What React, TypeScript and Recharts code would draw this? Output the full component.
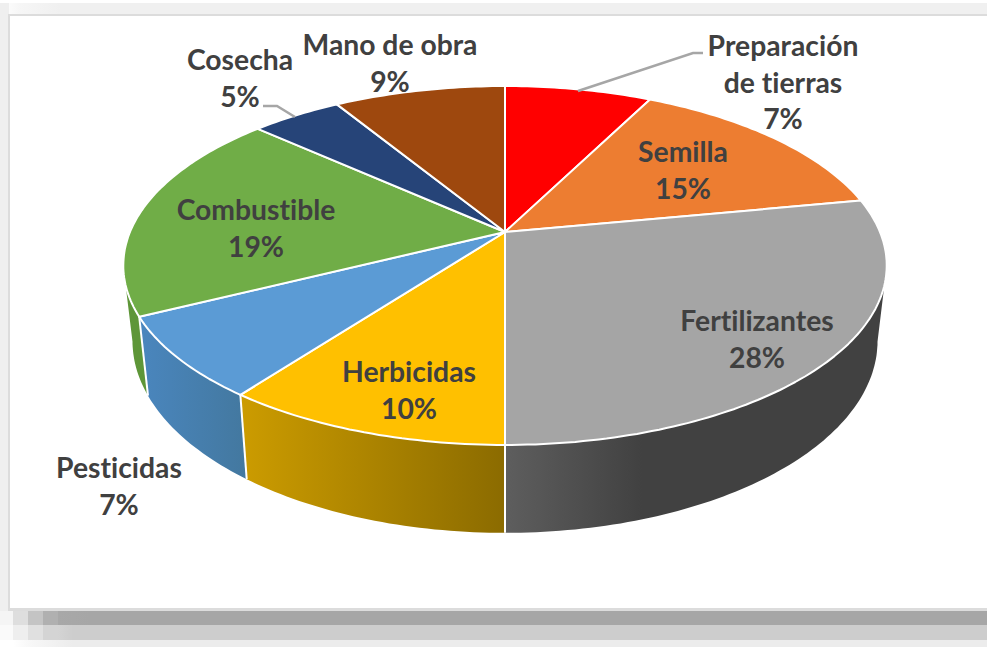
import React from 'react';
import { PieChart, Pie } from 'recharts';

const categories = ['Preparación\nde tierras', 'Semilla', 'Fertilizantes', 'Herbicidas', 'Pesticidas', 'Combustible', 'Cosecha', 'Mano de obra'];
// read from the slice edges, they round to the printed percentages
const shares = [7.45, 14.55, 28, 10.25, 7.35, 19.1, 4.6, 8.7];
const topColors = ['#ff0000', '#ed7d31', '#a5a5a5', '#ffc000', '#5b9bd5', '#70ad47', '#264478', '#9e480e'];
const wallStops = [
  ['#c00000', '#c00000', 1],
  ['#b25e25', '#b25e25', 1],
  ['#5e5e5e', '#414141', 0.36],
  ['#cc9c00', '#8b6b00', 1],
  ['#4a86be', '#43789f', 1],
  ['#5e9638', '#5e9638', 1],
  ['#1d3359', '#1d3359', 1],
  ['#773608', '#773608', 1],
];

const pieData = categories.map((name, i) => ({ name, value: shares[i], fill: topColors[i], wall: wallStops[i] }));

// where each label sits: centre x, first baseline
const labelSpots = [[783, 56], [683, 162], [757, 331], [409, 382], [119, 478], [256, 220], [240, 70], [390, 55]];
const leaders = ['578,91 693,53 703,53', '', '', '', '', '', '295,117 277,106 263,106', ''];

const CX = 505;
const CY = 232;
const RADIUS = 375;
// the rim is widest at these angles, the side wall only shows between them
const WALL_FROM = 101;
const WALL_TO = 259;

// Excel's 3D pie: the disc is seen in perspective, so the hub is off the ellipse centre
const project = (theta: number) => {
  const t = (theta * Math.PI) / 180;
  const X = Math.sin(t);
  const Y = -Math.cos(t);
  const w = 1 - 0.1866 * Y;
  return { x: (RADIUS * X) / w, y: (173.2 * Y) / w };
};
const topPoint = (theta: number) => {
  const p = project(theta);
  return [CX + p.x, CY + p.y];
};
const bottomPoint = (theta: number) => {
  const p = project(theta);
  return [CX + 0.976 * p.x, 305 + 1.07 * p.y];
};
const sweep = (from: number, to: number, fn: (t: number) => number[]) => {
  const pts = [];
  for (let t = from; t < to; t += 1) pts.push(fn(t));
  pts.push(fn(to));
  return pts;
};
const toPath = (pts: number[][]) => 'M' + pts.map((p) => `${p[0].toFixed(1)},${p[1].toFixed(1)}`).join('L') + 'Z';

const TopSlice = (props: any) => {
  const from = 90 - props.startAngle;
  const to = 90 - props.endAngle;
  return <path d={toPath([[CX, CY], ...sweep(from, to, topPoint)])} fill={props.fill} stroke="#fff" strokeWidth={2} strokeLinejoin="round" />;
};

const WallSlice = (props: any) => {
  const from = Math.max(90 - props.startAngle, WALL_FROM);
  const to = Math.min(90 - props.endAngle, WALL_TO);
  if (from >= to) return null;
  const upper = sweep(from, to, topPoint);
  const lower = sweep(from, to, bottomPoint).reverse();
  const xs = [...upper, ...lower].map((p) => p[0]);
  const [c1, c2, stop] = props.payload.wall;
  const id = `wall-${Math.round(from)}`;
  return (
    <g>
      <defs>
        <linearGradient id={id} gradientUnits="userSpaceOnUse" x1={Math.min(...xs)} x2={Math.max(...xs)} y1={0} y2={0}>
          <stop offset={0} stopColor={c1} />
          <stop offset={stop} stopColor={c2} />
          <stop offset={1} stopColor={c2} />
        </linearGradient>
      </defs>
      <path d={toPath([...upper, ...lower])} fill={`url(#${id})`} />
      {from > WALL_FROM && <line x1={upper[0][0]} y1={upper[0][1]} x2={lower[lower.length - 1][0]} y2={lower[lower.length - 1][1]} stroke="#fff" strokeWidth={2} />}
    </g>
  );
};

const SliceLabel = (props: any) => {
  const { index, name, percent } = props;
  const [x, y] = labelSpots[index];
  const lines = [...String(name).split('\n'), `${Math.round(percent * 100)}%`];
  return (
    <g>
      {leaders[index] && <polyline points={leaders[index]} fill="none" stroke="#a6a6a6" strokeWidth={2.5} />}
      <text x={x} y={y} textAnchor="middle" fontFamily="Lato" fontWeight={700} fontSize={28.3} fill="#404040" style={{ fontVariantLigatures: 'none' }}>
        {lines.map((l, i) => (
          <tspan key={i} x={x} dy={i === 0 ? 0 : 36.5}>{l}</tspan>
        ))}
      </text>
    </g>
  );
};

const band = (top: number, height: number, stops: string): React.CSSProperties => ({
  position: 'absolute', left: 0, top, width: 987, height, background: stops,
});

const App: React.FC = () => (
  <div style={{ position: 'absolute', left: 0, top: 0, width: 987, height: 647, background: '#fff', overflow: 'hidden' }}>
    <div style={band(3, 12, 'linear-gradient(90deg,#fff 0,#f6f6f6 20px,#f0f0f0 60px)')} />
    <div style={{ position: 'absolute', left: 0, top: 3, width: 9, height: 608, background: '#efefef' }} />
    <div style={band(611, 14, 'linear-gradient(90deg,#f5f5f5 13px,#dedede 13px,#dedede 28px,#c4c4c4 28px,#c4c4c4 43px,#b0b0b0 43px,#b0b0b0 58px,#a8a8a8 58px,#a6a6a6 90px)')} />
    <div style={band(625, 15, 'linear-gradient(90deg,#fafafa 13px,#eeeeee 13px,#eeeeee 28px,#e0e0e0 28px,#e0e0e0 43px,#d4d4d4 43px,#d4d4d4 58px,#cdcdcd 73px)')} />
    <div style={band(640, 7, 'linear-gradient(90deg,#fff 13px,#f8f8f8 28px,#ececec 73px)')} />
    <div style={{ position: 'absolute', left: 8, top: 14, width: 979, height: 597, boxSizing: 'border-box', background: '#fff', borderLeft: '2px solid #dcdcdc', borderTop: '2px solid #dcdcdc', borderBottom: '3px solid #dcdcdc' }} />
    <div style={{ position: 'absolute', left: 0, top: 0 }}>
      <PieChart width={987} height={647} margin={{ top: 0, right: 0, bottom: 0, left: 0 }}>
        <Pie data={pieData} dataKey="value" nameKey="name" cx={CX} cy={CY} outerRadius={RADIUS} startAngle={90} endAngle={-270} shape={WallSlice} isAnimationActive={false} />
        <Pie data={pieData} dataKey="value" nameKey="name" cx={CX} cy={CY} outerRadius={RADIUS} startAngle={90} endAngle={-270} shape={TopSlice} label={SliceLabel} labelLine={false} isAnimationActive={false} />
      </PieChart>
    </div>
  </div>
);

export default App;
